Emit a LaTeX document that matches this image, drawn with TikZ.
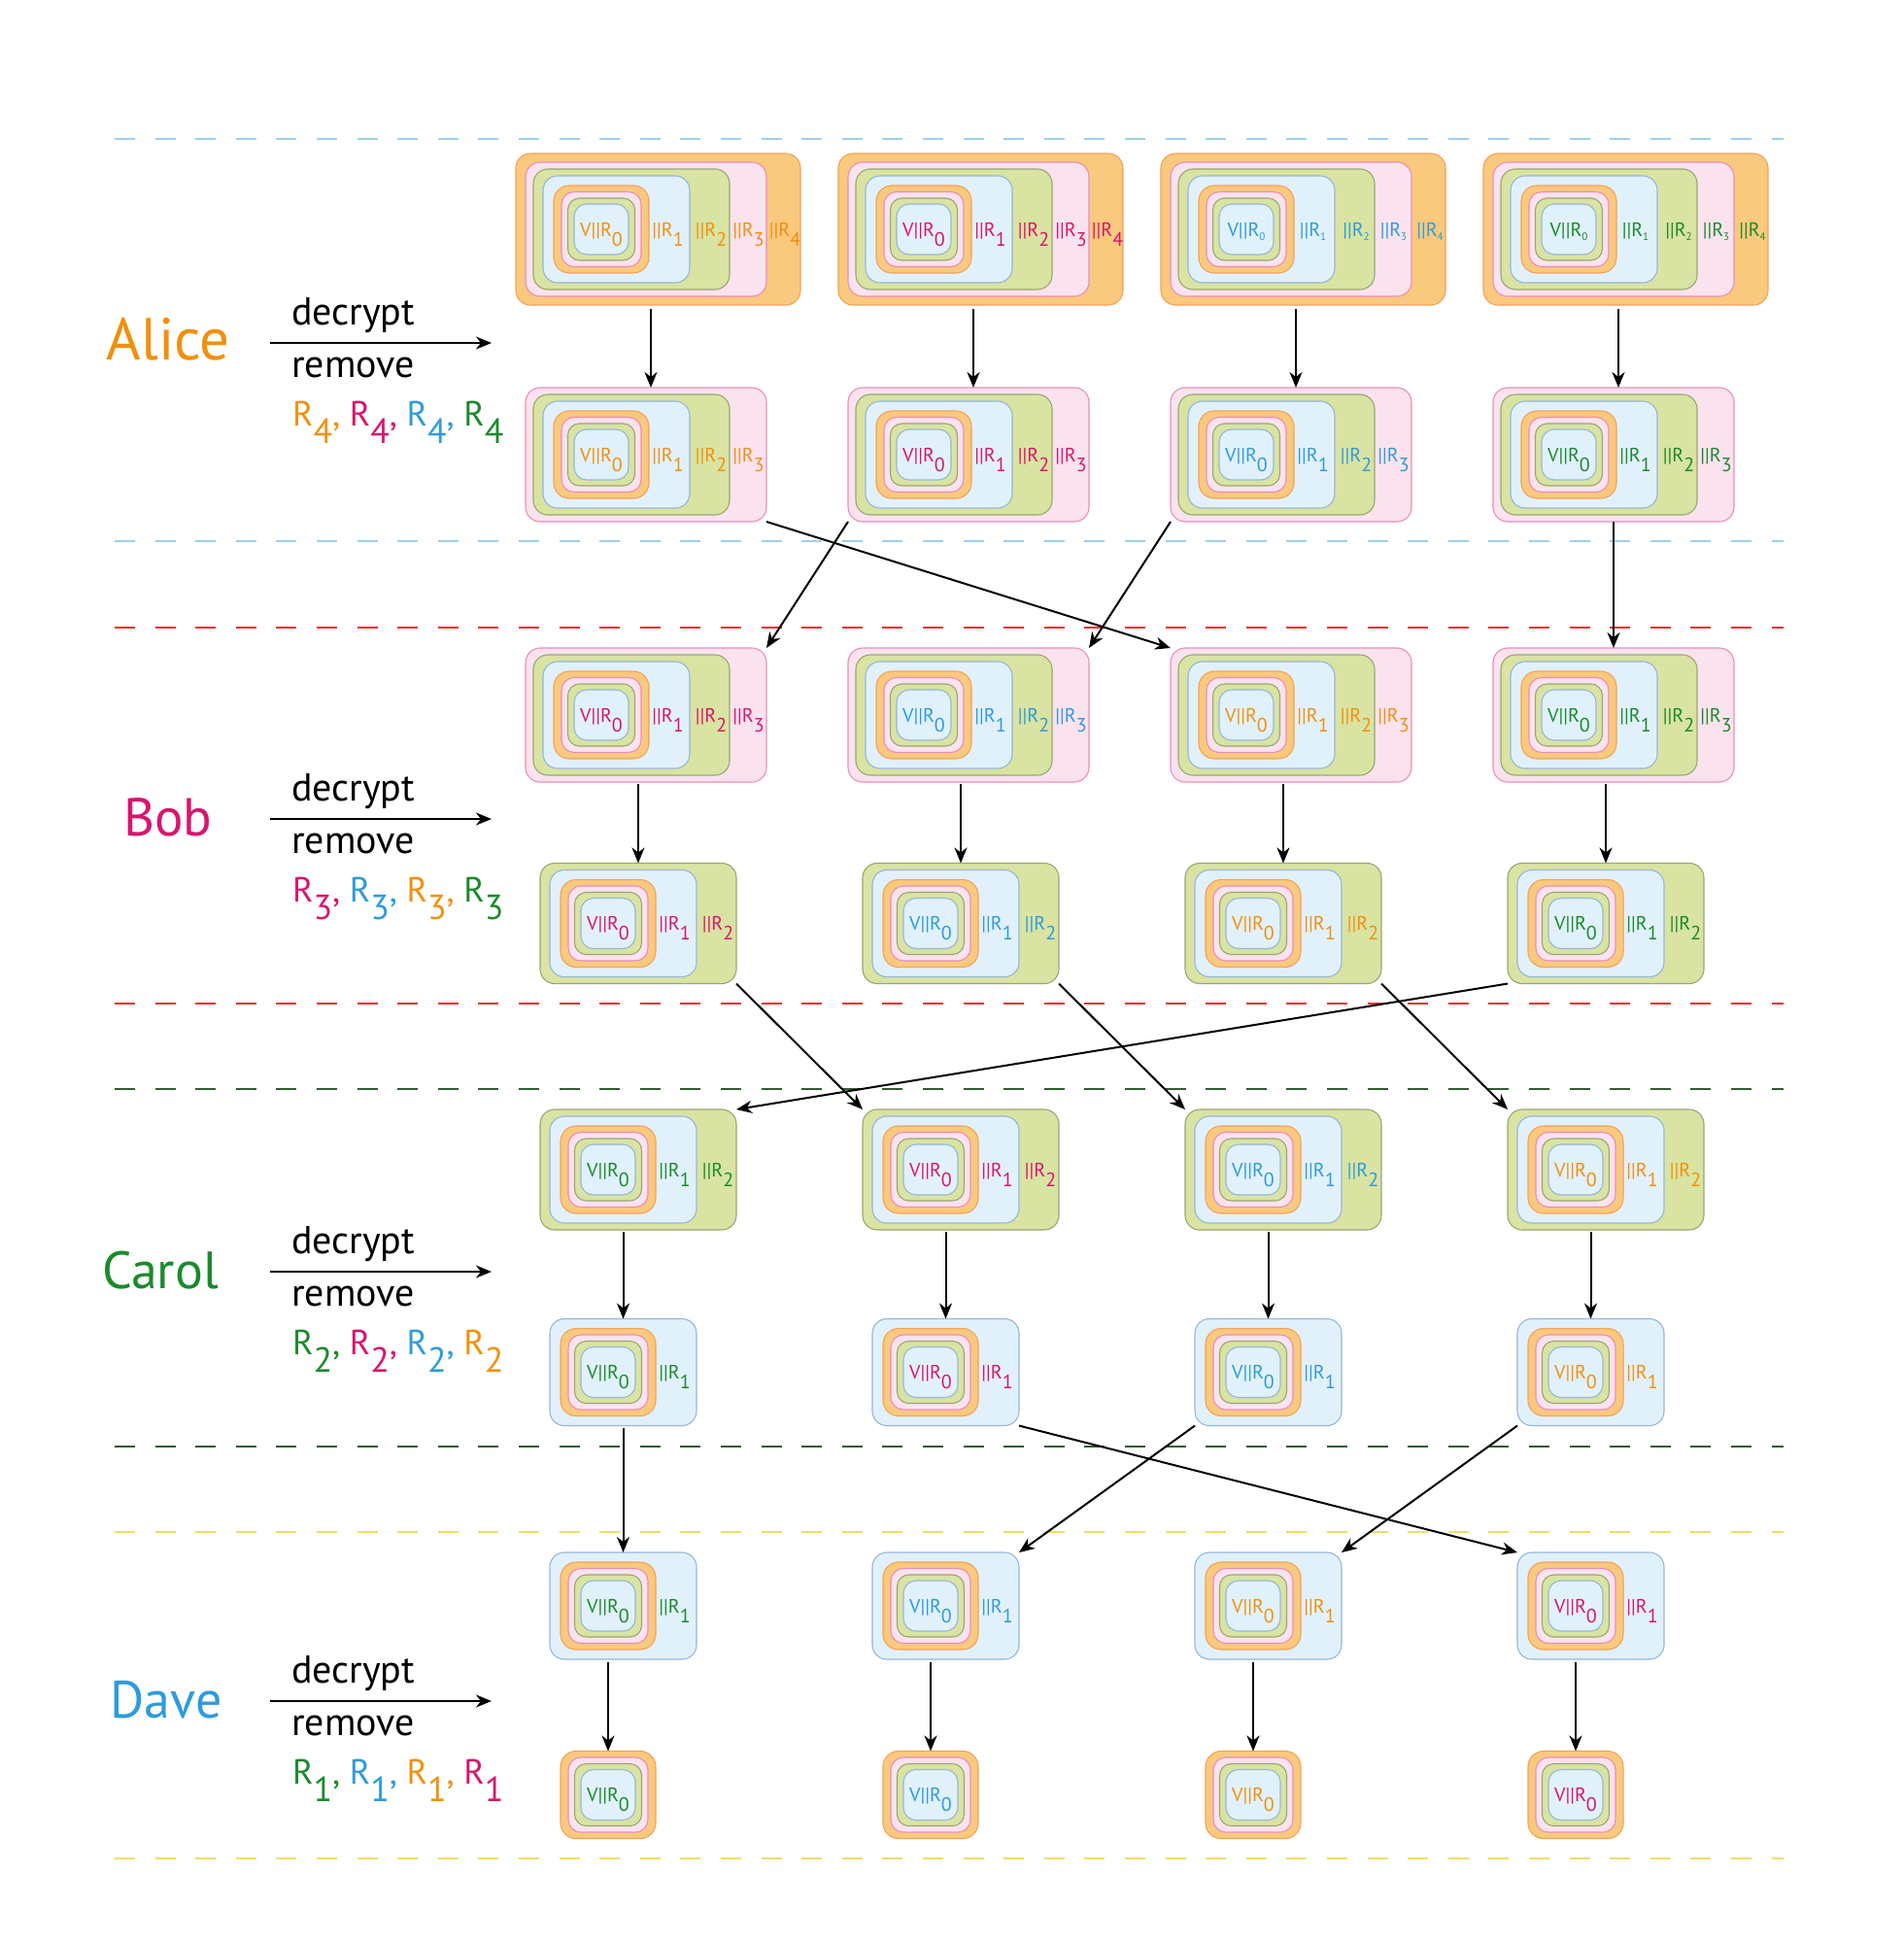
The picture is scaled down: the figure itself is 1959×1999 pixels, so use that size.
\documentclass[tikz,border=0pt]{standalone}
\usepackage{fontspec}
\setmainfont{PT Sans}
\usetikzlibrary{arrows.meta}
\usetikzlibrary{positioning}

\definecolor{corange}{HTML}{F0900E}
\definecolor{cmagenta}{HTML}{D7166E}
\definecolor{cblue}{HTML}{2E9BDA}
\definecolor{cgreen}{HTML}{1B8A2B}
\definecolor{forange}{HTML}{F9C97E}
\definecolor{dorange}{HTML}{F3A25A}
\definecolor{fpink}{HTML}{FBE2EF}
\definecolor{dpink}{HTML}{EC8CB8}
\definecolor{fgreen}{HTML}{D9E3A2}
\definecolor{dgreen}{HTML}{97A873}
\definecolor{fblue}{HTML}{E1F1FB}
\definecolor{dblue}{HTML}{95B6D8}
\definecolor{lblue}{HTML}{9AD1F0}
\definecolor{lred}{HTML}{E73430}
\definecolor{lgreen}{HTML}{2F5C30}
\definecolor{lyellow}{HTML}{F2DD62}

\newcommand{\rsubbig}[1]{\raisebox{-0.5em}{#1}}
\newcommand{\rsubtiny}[1]{{\fontsize{11}{11}\selectfont\raisebox{-0.45em}{#1}}}
% nested message: name, x, y of the core, number of outer layers, text colour
\newcommand{\onion}[6][big]{%
  \begin{scope}[shift={({#3},{#4})}]
    \foreach \k/\fc/\dc/\w/\h/\dx in {4/forange/dorange/293/156/58.5,3/fpink/dpink/248/138/46,
        2/fgreen/dgreen/202/124/31,1/fblue/dblue/151/110/15.5}{%
      \ifnum\k>#5 \else
        \ifnum\k=#5 \def\nm{#2}\else \def\nm{#2-\k}\fi
        \node[box,fill=\fc,draw=\dc,minimum width=\w pt,minimum height=\h pt,xshift=\dx pt] (\nm) at (0,0) {};
      \fi
    }%
    \ifnum#5=0 \def\nm{#2}\else \def\nm{#2-o}\fi
    \node[core4] (\nm) at (0,0) {};
    \node[core3] (#2-p) at (0,0) {};
    \node[core2] (#2-g) at (0,0) {};
    \node[core1] (#2-b) at (0,0) {};
    \node[lbl,text=#6] (#2-t0) at (0,7) {V||R\csname rsub#1\endcsname{0}};
    \foreach \k/\lx in {1/68.5,2/113,3/151.5,4/189}{%
      \ifnum\k>#5 \else
        \node[lbl,text=#6] (#2-t\k) at (\lx,7) {||R\csname rsub#1\endcsname{\k}};
      \fi
    }%
  \end{scope}%
}

\begin{document}
\begin{tikzpicture}[x=1pt,y=-1pt,
  box/.style={rectangle,rounded corners=15pt,line width=1.1pt,inner sep=0pt,outer sep=0pt},
  core4/.style={box,fill=forange,draw=dorange,minimum width=98pt,minimum height=90pt,rounded corners=16pt},
  core3/.style={box,fill=fpink,draw=dpink,minimum width=82pt,minimum height=77pt,rounded corners=13pt},
  core2/.style={box,fill=fgreen,draw=dgreen,minimum width=69pt,minimum height=64pt,rounded corners=12pt},
  core1/.style={box,fill=fblue,draw=dblue,minimum width=56pt,minimum height=52pt,rounded corners=13pt},
  lbl/.style={anchor=base,inner sep=0pt,font=\fontsize{20}{20}\selectfont},
  who/.style={anchor=base,inner sep=0pt},
  act/.style={anchor=base west,inner sep=0pt,font=\fontsize{40}{40}\selectfont},
  keyl/.style={anchor=base west,inner sep=0pt,font=\fontsize{36}{36}\selectfont},
  flow/.style={-{Stealth[length=16pt,width=13pt,inset=5pt]},line width=2pt},
  lane/.style={line width=2pt,dash pattern=on 21pt off 20.6pt}]%
  \useasboundingbox (0,0) rectangle (1959,1999);
  % lanes
  \draw[lane,lblue] (118,143)--(1836,143);
  \draw[lane,lblue] (118,557)--(1836,557);
  \draw[lane,lred] (118,646)--(1836,646);
  \draw[lane,lred] (118,1033)--(1836,1033);
  \draw[lane,lgreen] (118,1121)--(1836,1121);
  \draw[lane,lgreen] (118,1489)--(1836,1489);
  \draw[lane,lyellow] (118,1577)--(1836,1577);
  \draw[lane,lyellow] (118,1913)--(1836,1913);
  % who removes what
  \foreach \who/\wc/\ws/\y/\nx/\keys in {%
      Alice/corange/61/353/173/{\color{corange}R\rsubbig{4}, \color{cmagenta}R\rsubbig{4}, \color{cblue}R\rsubbig{4}, \color{cgreen}R\rsubbig{4}},
      Bob/cmagenta/55/843/173/{\color{cmagenta}R\rsubbig{3}, \color{cblue}R\rsubbig{3}, \color{corange}R\rsubbig{3}, \color{cgreen}R\rsubbig{3}},
      Carol/cgreen/54/1309/165/{\color{cgreen}R\rsubbig{2}, \color{cmagenta}R\rsubbig{2}, \color{cblue}R\rsubbig{2}, \color{corange}R\rsubbig{2}},
      Dave/cblue/54/1751/171/{\color{cgreen}R\rsubbig{1}, \color{cblue}R\rsubbig{1}, \color{corange}R\rsubbig{1}, \color{cmagenta}R\rsubbig{1}}}{%
    \node[who,text=\wc,font=\fontsize{\ws}{\ws}\selectfont] (\who) at (\nx,\y+17) {\who};
    \coordinate (\who-l) at (278,\y);
    \coordinate (\who-r) at (506,\y);
    \draw[flow] (\who-l) -- (\who-r);
    \node[act] (\who-dec) at (300,\y-19) {decrypt};
    \node[act] (\who-rem) at (300,\y+35) {remove};
    \node[keyl] (\who-keys) at (301,\y+85) {\keys};
  }
  % rows of messages
  \foreach \c/\col/\s in {1/corange/big,2/cmagenta/big,3/cblue/tiny,4/cgreen/tiny}{\onion[\s]{a1c\c}{619+332*(\c-1)}{236}{4}{\col}}
  \foreach \c/\col in {1/corange,2/cmagenta,3/cblue,4/cgreen}{\onion{a2c\c}{619+332*(\c-1)}{468}{3}{\col}}
  \foreach \c/\col in {1/cmagenta,2/cblue,3/corange,4/cgreen}{\onion{b1c\c}{619+332*(\c-1)}{736}{3}{\col}}
  \foreach \c/\col in {1/cmagenta,2/cblue,3/corange,4/cgreen}{\onion{b2c\c}{626+332*(\c-1)}{950.5}{2}{\col}}
  \foreach \c/\col in {1/cgreen,2/cmagenta,3/cblue,4/corange}{\onion{c1c\c}{626+332*(\c-1)}{1204}{2}{\col}}
  \foreach \c/\col in {1/cgreen,2/cmagenta,3/cblue,4/corange}{\onion{c2c\c}{626+332*(\c-1)}{1412.5}{1}{\col}}
  \foreach \c/\col in {1/cgreen,2/cblue,3/corange,4/cmagenta}{\onion{d1c\c}{626+332*(\c-1)}{1653}{1}{\col}}
  \foreach \c/\col in {1/cgreen,2/cblue,3/corange,4/cmagenta}{\onion{d2c\c}{626+332*(\c-1)}{1847.5}{0}{\col}}
  % decrypt steps
  \foreach \c in {1,...,4}{
    \draw[flow,shorten <=4pt] ([xshift=5pt]a2c\c.north |- a1c\c.south) -- ([xshift=5pt]a2c\c.north);
    \draw[flow,shorten <=2pt] (b2c\c.north |- b1c\c.south) -- (b2c\c.north);
    \draw[flow,shorten <=2pt] (c2c\c.north |- c1c\c.south) -- (c2c\c.north);
    \draw[flow,shorten <=3pt] (d2c\c.north |- d1c\c.south) -- (d2c\c.north);
  }
  % shuffles
  \draw[flow] (a2c1.south east) -- (b1c3.north west);
  \draw[flow] (a2c2.south west) -- (b1c1.north east);
  \draw[flow] (a2c3.south west) -- (b1c2.north east);
  \draw[flow] (a2c4.south) -- (b1c4.north);
  \draw[flow] (b2c1.south east) -- (c1c2.north west);
  \draw[flow] (b2c2.south east) -- (c1c3.north west);
  \draw[flow] (b2c3.south east) -- (c1c4.north west);
  \draw[flow] (b2c4.south west) -- (c1c1.north east);
  \draw[flow,shorten <=2pt] (c2c1.south) -- (d1c1.north);
  \draw[flow] (c2c2.south east) -- (d1c4.north west);
  \draw[flow] (c2c3.south west) -- (d1c2.north east);
  \draw[flow] (c2c4.south west) -- (d1c3.north east);
\end{tikzpicture}
\end{document}
